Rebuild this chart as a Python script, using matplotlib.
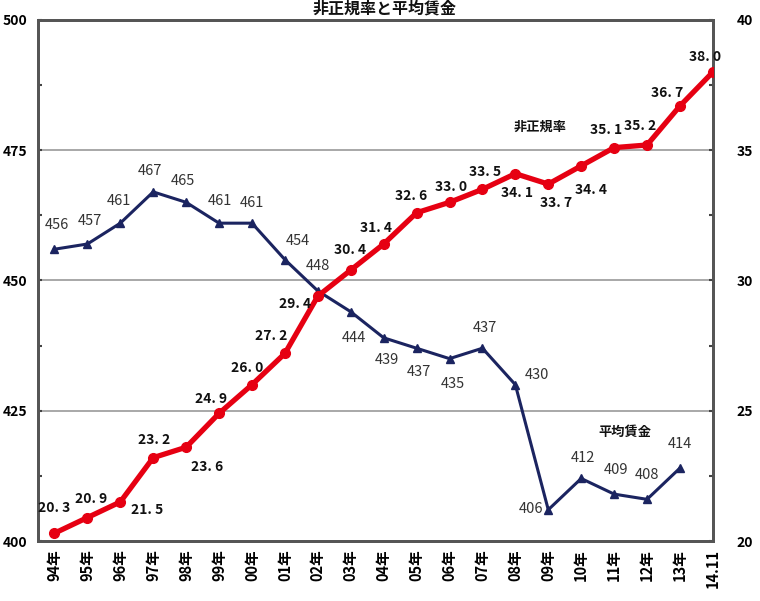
import matplotlib
matplotlib.use("Agg")
import matplotlib.pyplot as plt
from matplotlib.ticker import MultipleLocator

plt.rcParams['font.family'] = ['Noto Sans CJK JP', 'DejaVu Sans']

categories = ["94年", "95年", "96年", "97年", "98年", "99年", "00年", "01年", "02年", "03年",
              "04年", "05年", "06年", "07年", "08年", "09年", "10年", "11年", "12年", "13年", "14.11"]
wage = [456, 457, 461, 467, 465, 461, 461, 454, 448, 444,
        439, 437, 435, 437, 430, 406, 412, 409, 408, 414]
nonreg = [20.3, 20.9, 21.5, 23.2, 23.6, 24.9, 26.0, 27.2, 29.4, 30.4,
          31.4, 32.6, 33.0, 33.5, 34.1, 33.7, 34.4, 35.1, 35.2, 36.7, 38.0]
wage_labels = ["456", "457", "461", "467", "465", "461", "461", "454", "448", "444",
               "439", "437", "435", "437", "430", "406", "412", "409", "408", "414"]
nonreg_labels = ["20. 3", "20. 9", "21. 5", "23. 2", "23. 6", "24. 9", "26. 0", "27. 2", "29. 4", "30. 4",
                 "31. 4", "32. 6", "33. 0", "33. 5", "34. 1", "33. 7", "34. 4", "35. 1", "35. 2", "36. 7", "38. 0"]
left_ticks = [400, 425, 450, 475, 500]
right_ticks = [20, 25, 30, 35, 40]

wage_off = [(2, 24), (2, 23), (-1, 22), (-3, 21), (-3, 21), (1, 22), (0, 20), (13, 19), (0, 25), (3, -26),
            (3, -22), (2, -24), (3, -25), (2, 20), (22, 10), (-17, 1), (2, 20), (2, 24), (0, 24), (0, 24)]
nonreg_off = [(0, 25), (4, 19), (27, -8), (1, 18), (21, -20), (-8, 14), (-5, 17), (-14, 17), (-23, -8), (-1, 20),
              (-8, 16), (-5, 17), (2, 15), (3, 17), (2, -19), (8, -19), (10, -24), (-8, 18), (-7, 19), (-13, 13), (-8, 15)]

fig = plt.figure(figsize=(7.6, 6.01), dpi=100)
ax = fig.add_axes([0.05, 0.0998, 0.888, 0.867])
ax2 = ax.twinx()

blue = '#1b2460'
red = '#e60012'

x_w = list(range(len(wage)))
x_n = list(range(len(nonreg)))

ax.set_xlim(-0.5, 20)
ax.set_ylim(400, 500)
ax2.set_ylim(20, 40)

for v in [425, 450, 475]:
    ax.axhline(v, color='#999999', lw=1.2, zorder=1)

ax.plot(x_w, wage, color=blue, lw=2.2, marker='^', markersize=6, zorder=3)
ax2.plot(x_n, nonreg, color=red, lw=3.8, marker='o', markersize=7, zorder=3)

for xi, yi, t, (dx, dy) in zip(x_w, wage, wage_labels, wage_off):
    ax.annotate(t, (xi, yi), xytext=(dx, dy), textcoords='offset pixels',
                ha='center', va='center', fontsize=10.5, color='#333333')
for xi, yi, t, (dx, dy) in zip(x_n, nonreg, nonreg_labels, nonreg_off):
    ax2.annotate(t, (xi, yi), xytext=(dx, dy), textcoords='offset pixels',
                 ha='center', va='center', fontsize=10, color='#111111', fontweight='bold')

ax2.text(540 / 760, 1 - 127 / 601, "非正規率", transform=fig.transFigure, ha='center', va='center',
         fontsize=9.5, fontweight='bold', color='#111111')
ax2.text(625 / 760, 1 - 432 / 601, "平均賃金", transform=fig.transFigure, ha='center', va='center',
         fontsize=9.5, fontweight='bold', color='#111111')

fig.text(385 / 760, 0.999, "非正規率と平均賃金", ha='center', va='top', fontsize=11.5,
         fontweight='bold', color='#111111')

ax.set_yticks(left_ticks)
ax.set_yticklabels([str(v) for v in left_ticks], fontweight='bold', fontsize=10)
ax.yaxis.set_minor_locator(MultipleLocator(12.5))
ax2.set_yticks(right_ticks)
ax2.set_yticklabels([str(v) for v in right_ticks], fontweight='bold', fontsize=10)
ax2.yaxis.set_minor_locator(MultipleLocator(2.5))

ax.tick_params(axis='y', which='both', direction='in', length=3, width=1.5, color='#444444', pad=8)
ax2.tick_params(axis='y', which='both', direction='in', length=3, width=1.5, color='#444444', pad=17)

ax.set_xticks(x_n)
ax.set_xticklabels(categories, rotation=90, fontweight='bold', fontsize=10.5, va='top')
ax.tick_params(axis='x', length=0, pad=6)

for a in (ax, ax2):
    for s in a.spines.values():
        s.set_color('#555555')
        s.set_linewidth(2)

fig.savefig("out.png", dpi=100)
